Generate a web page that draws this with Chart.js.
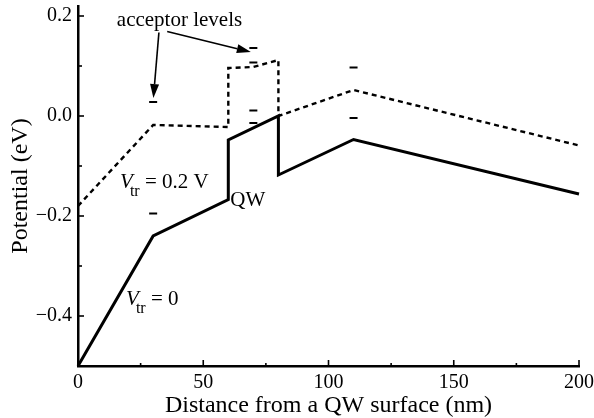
<!DOCTYPE html>
<html><head><meta charset="utf-8">
<script src="https://cdn.jsdelivr.net/npm/chart.js@4/dist/chart.umd.min.js"></script>
<style>html,body{margin:0;padding:0;background:#fff}</style>
</head><body>
<canvas id="c" width="594" height="418" style="width:594px;height:418px;display:block"></canvas>
<script>
// ---- data ----
const xSolid = [0, 30, 60, 60, 80, 80, 110, 200];
const ySolid = [-0.5, -0.24, -0.167, -0.048, 0.0, -0.118, -0.047, -0.156];
const xDashed = [0, 30, 60, 60, 70, 80, 80, 110, 200];
const yDashed = [-0.18, -0.018, -0.022, 0.096, 0.098, 0.112, 0.0, 0.052, -0.059];
const xAcceptor = [30, 30, 70, 70, 70, 70, 110, 110];
const yAcceptor = [0.028, -0.195, 0.136, 0.107, 0.011, -0.014, 0.097, -0.004];
const xMajorTicks = [0, 50, 100, 150, 200];
const xTickLabels = ['0', '50', '100', '150', '200'];
const xMinorTicks = [25, 75, 125, 175];
const yMajorTicks = [-0.4, -0.2, 0.0, 0.2];
const yTickLabels = ['\u22120.4', '\u22120.2', '0.0', '0.2'];
const yMinorTicks = [-0.3, -0.1, 0.1];
const xTitle = 'Distance from a QW surface (nm)';
const yTitle = 'Potential (eV)';

const toPts = (xs, ys) => xs.map((x, i) => ({x: x, y: ys[i]}));
const FONT = '"Liberation Serif", "Times New Roman", serif';

// annotations in data coordinates
const annoText = {text: 'acceptor levels', x: 15.5, y: 0.181};
const arrows = [
  {x1: 32.3, y1: 0.167, x2: 30.1, y2: 0.036},
  {x1: 35.6, y1: 0.169, x2: 69.0, y2: 0.128}
];
const labels = [
  {v: 'V', sub: 'tr', rest: ' = 0.2 V', x: 16.8, y: -0.143},
  {v: 'V', sub: 'tr', rest: ' = 0', x: 19.2, y: -0.378},
  {v: '', sub: '', rest: 'QW', x: 60.8, y: -0.180}
];

const decor = {
  id: 'decor',
  afterDatasetsDraw(chart) {
    const ctx = chart.ctx, xs = chart.scales.x, ys = chart.scales.y, a = chart.chartArea;
    ctx.save();
    ctx.strokeStyle = '#000'; ctx.fillStyle = '#000'; ctx.lineWidth = 1.6; ctx.setLineDash([]);
    const seg = (x1, y1, x2, y2) => { ctx.beginPath(); ctx.moveTo(x1, y1); ctx.lineTo(x2, y2); ctx.stroke(); };
    xMajorTicks.forEach(v => { const p = xs.getPixelForValue(v); seg(p, a.bottom, p, a.bottom - 6); });
    xMinorTicks.forEach(v => { const p = xs.getPixelForValue(v); seg(p, a.bottom, p, a.bottom - 3); });
    yMajorTicks.forEach(v => { const p = ys.getPixelForValue(v); seg(a.left, p, a.left + 6, p); });
    yMinorTicks.forEach(v => { const p = ys.getPixelForValue(v); seg(a.left, p, a.left + 4, p); });
    // text
    ctx.textBaseline = 'alphabetic'; ctx.textAlign = 'left';
    ctx.font = '21px ' + FONT;
    ctx.fillText(annoText.text, xs.getPixelForValue(annoText.x), ys.getPixelForValue(annoText.y));
    // arrows
    arrows.forEach(ar => {
      const x1 = xs.getPixelForValue(ar.x1), y1 = ys.getPixelForValue(ar.y1);
      const x2 = xs.getPixelForValue(ar.x2), y2 = ys.getPixelForValue(ar.y2);
      const ang = Math.atan2(y2 - y1, x2 - x1), L = 14, W = 4.5;
      const bx = x2 - L * Math.cos(ang), by = y2 - L * Math.sin(ang);
      ctx.lineWidth = 1.6;
      seg(x1, y1, bx, by);
      ctx.beginPath();
      ctx.moveTo(x2, y2);
      ctx.lineTo(bx + W * Math.sin(ang), by - W * Math.cos(ang));
      ctx.lineTo(bx - W * Math.sin(ang), by + W * Math.cos(ang));
      ctx.closePath(); ctx.fill();
    });
    labels.forEach(l => {
      let px = xs.getPixelForValue(l.x), py = ys.getPixelForValue(l.y);
      if (l.v) {
        ctx.font = 'italic 21px ' + FONT;
        ctx.fillText(l.v, px, py);
        px += ctx.measureText(l.v).width - 3;
        ctx.font = '16px ' + FONT;
        ctx.fillText(l.sub, px, py + 8);
        px += ctx.measureText(l.sub).width;
      }
      ctx.font = '21px ' + FONT;
      ctx.fillText(l.rest, px, py);
    });
    ctx.restore();
  }
};

new Chart(document.getElementById('c'), {
  type: 'scatter',
  data: {
    datasets: [
      {data: toPts(xSolid, ySolid), showLine: true, borderColor: '#000', borderWidth: 3, pointRadius: 0, borderJoinStyle: 'miter', clip: false},
      {data: toPts(xDashed, yDashed), showLine: true, borderColor: '#000', borderWidth: 2.4, borderDash: [5, 4], pointRadius: 0, borderJoinStyle: 'miter', clip: false},
      {data: toPts(xAcceptor, yAcceptor), showLine: false, pointStyle: 'line', pointRadius: 4, pointBorderWidth: 2, pointBorderColor: '#000', borderColor: '#000', pointHoverRadius: 4}
    ]
  },
  options: {
    responsive: false, animation: false, devicePixelRatio: 1,
    layout: {padding: {top: 3, right: 15, left: 0, bottom: 0}},
    plugins: {legend: {display: false}, tooltip: {enabled: false}},
    scales: {
      x: {
        type: 'linear', min: 0, max: 200,
        afterBuildTicks: s => { s.ticks = xMajorTicks.map(v => ({value: v})); },
        afterFit: s => { s.height = 52; s.paddingLeft = 0; s.paddingRight = 0; },
        grid: {display: false, drawTicks: false},
        border: {display: true, color: '#000', width: 2.5},
        ticks: {color: '#000', font: {family: FONT, size: 20}, padding: 5, maxRotation: 0,
          callback: (v, i) => xTickLabels[i]},
        title: {display: true, text: xTitle, color: '#000', font: {family: FONT, size: 24, lineHeight: 1}, padding: {top: 0, bottom: 0}}
      },
      y: {
        type: 'linear', min: -0.5, max: 0.22,
        afterBuildTicks: s => { s.ticks = yMajorTicks.map(v => ({value: v})); },
        afterFit: s => { s.width = 78; s.paddingTop = 0; s.paddingBottom = 0; },
        grid: {display: false, drawTicks: false},
        border: {display: true, color: '#000', width: 2.5},
        ticks: {color: '#000', font: {family: FONT, size: 20}, padding: 6,
          callback: (v, i) => yTickLabels[i]},
        title: {display: true, text: yTitle, color: '#000', font: {family: FONT, size: 24, lineHeight: 1}, padding: {top: 9, bottom: 0}}
      }
    }
  },
  plugins: [decor]
});
</script>
</body></html>
